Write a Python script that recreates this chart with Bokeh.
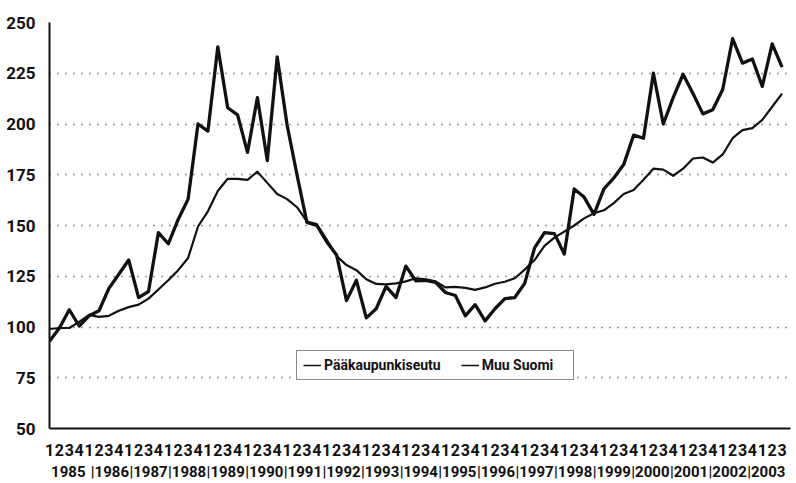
from bokeh.plotting import figure
from bokeh.models import FixedTicker, LinearAxis, Legend, LegendItem, Range1d
from bokeh.embed import file_html
from bokeh.resources import INLINE

# ---- data (quarterly index, 1985Q1 .. 2003Q3) ----
years = [str(y) for y in range(1985, 2004)]
quarters = ["1", "2", "3", "4"] * 18 + ["1", "2", "3"]
y_ticks = [50, 75, 100, 125, 150, 175, 200, 225, 250]

paakaupunkiseutu = [
    93, 99.5, 108.5, 100.5, 105.5, 108, 119, 126, 133, 114.5, 117.5, 146.5,
    141, 153, 163, 200, 196.5, 238, 208, 204.5, 186, 213, 182, 233,
    199.5, 175, 151.5, 150, 142, 135.5, 113, 123, 104.5, 109, 120, 114.5,
    130, 122.7, 123, 122, 117, 115.5, 105.5, 111, 103, 109, 114, 114.5,
    121.5, 139, 146.5, 146, 136, 168, 164, 155.5, 168, 173.4, 180, 194.5,
    193, 225, 200, 213, 224.5, 215, 205, 207, 217, 242, 230, 232,
    218.5, 239.5, 228,
]
muu_suomi = [
    99, 99.5, 99.5, 102.5, 106, 105, 105.5, 108, 109.8, 111, 114, 118.5,
    123, 128, 134, 149.5, 157, 167, 173, 173, 172.5, 176.5, 171, 165.5,
    163, 159, 152, 150.7, 143, 135, 130.5, 128, 123.5, 121.2, 121, 121.5,
    122.5, 124, 123.5, 122.5, 119.5, 119.8, 119.3, 118.3, 119.5, 121.3, 122.3, 124,
    128.3, 133, 140, 144, 147, 150, 153.5, 156, 157.5, 161, 165.5, 167.5,
    172.5, 178, 177.5, 174.5, 178, 183, 183.5, 181, 185, 193, 197, 198,
    202, 208.5, 215,
]

x = list(range(len(paakaupunkiseutu)))

FONT = "Roboto"

p = figure(
    width=796, height=483,
    x_range=Range1d(0, 74.85), y_range=Range1d(50, 250),
    output_backend="svg", toolbar_location=None,
    min_border_left=49, min_border_right=6, min_border_top=22, min_border_bottom=53,
)
p.outline_line_color = None
p.background_fill_color = "white"
p.border_fill_color = "white"

l1 = p.line(x, paakaupunkiseutu, line_color="#111111", line_width=3.3, line_join="round")
l2 = p.line(x, muu_suomi, line_color="#111111", line_width=2.2, line_join="round")

# thin lines used only for legend swatches (no visible data)
nan = float("nan")
d1 = p.line([0], [nan], line_color="#111111", line_width=1.5)
d2 = p.line([0], [nan], line_color="#111111", line_width=1.5)

# y axis
p.yaxis.ticker = FixedTicker(ticks=y_ticks)
p.yaxis.axis_line_width = 2
p.yaxis.axis_line_color = "#111111"
p.yaxis.major_tick_line_color = None
p.yaxis.minor_tick_line_color = None
p.yaxis.major_label_text_font = FONT
p.yaxis.major_label_text_font_style = "bold"
p.yaxis.major_label_text_font_size = "17px"
p.yaxis.major_label_text_color = "#111111"
p.yaxis.major_label_standoff = 8

# quarter axis
p.xaxis.ticker = FixedTicker(ticks=x)
p.xaxis.major_label_overrides = {i: q for i, q in zip(x, quarters)}
p.xaxis.axis_line_width = 2
p.xaxis.axis_line_color = "#111111"
p.xaxis.major_tick_line_color = None
p.xaxis.minor_tick_line_color = None
p.xaxis.major_label_text_font = FONT
p.xaxis.major_label_text_font_style = "bold"
p.xaxis.major_label_text_font_size = "16px"
p.xaxis.major_label_text_color = "#111111"
p.xaxis.major_label_standoff = 9

# year axis
year_pos = [1.9] + [round(6.1 + 3.9 * (k - 1), 2) for k in range(1, len(years))]
year_text = [years[0]] + ["|" + y for y in years[1:]]
yax = LinearAxis(
    ticker=FixedTicker(ticks=year_pos),
    major_label_overrides={pos: t for pos, t in zip(year_pos, year_text)},
    axis_line_color=None, major_tick_line_color=None, minor_tick_line_color=None,
    major_label_text_font=FONT, major_label_text_font_style="bold",
    major_label_text_font_size="15px", major_label_text_color="#111111",
    major_label_standoff=-2,
)
p.add_layout(yax, "below")

# grid
p.xgrid.grid_line_color = None
p.ygrid.ticker = FixedTicker(ticks=y_ticks)
p.ygrid.grid_line_color = "#333333"
p.ygrid.grid_line_width = 1.3
p.ygrid.grid_line_dash = "1 7"

legend = Legend(
    items=[LegendItem(label="Pääkaupunkiseutu", renderers=[d1]),
           LegendItem(label="Muu Suomi", renderers=[d2])],
    orientation="horizontal", location=(247, 48),
    border_line_color="#111111", border_line_width=1.5,
    background_fill_color="white", background_fill_alpha=1.0,
    label_text_font=FONT, label_text_font_style="bold",
    label_text_font_size="14px", label_text_color="#111111",
    glyph_width=18, glyph_height=12, label_standoff=3, spacing=20,
    padding=6, margin=0, label_width=85,
)
p.add_layout(legend, "center")

open("out.html", "w").write(file_html(p, INLINE))
